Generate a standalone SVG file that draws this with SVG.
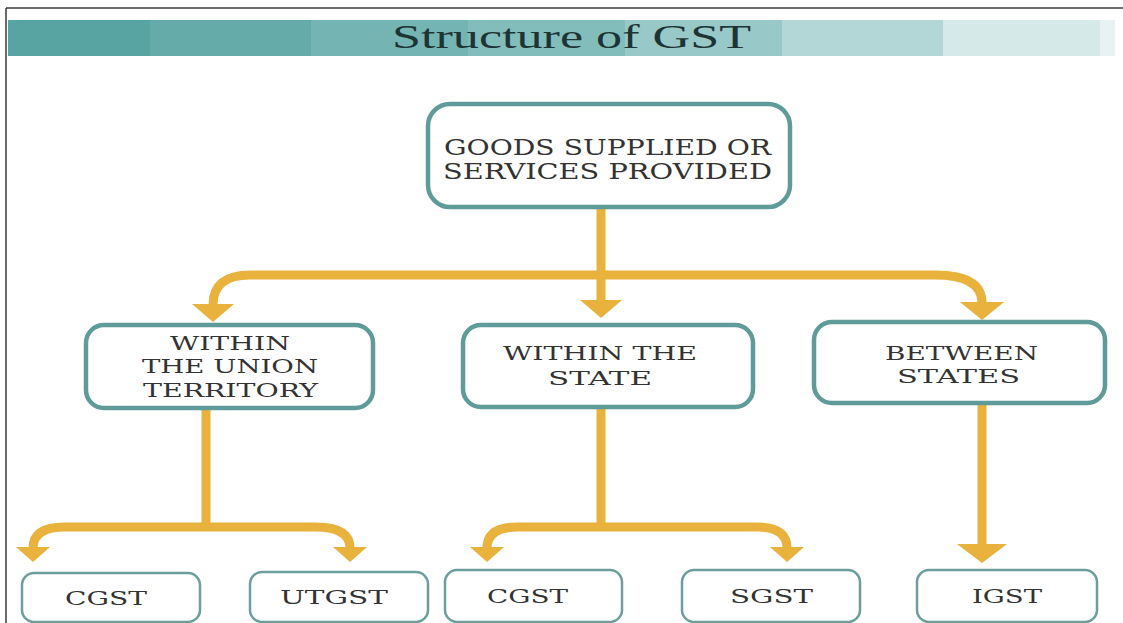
<svg xmlns="http://www.w3.org/2000/svg" width="1123" height="623" viewBox="0 0 1123 623">
<style>
.box{fill:#ffffff;stroke:#5f9c99;stroke-width:4.5}
.sbox{fill:#ffffff;stroke:#6c9e9c;stroke-width:2.5}
.t{font-family:"DejaVu Serif","Liberation Serif",serif;fill:#333333;text-anchor:start}
.c{fill:none;stroke:#e8b23c;stroke-width:9}
.h{fill:#e8b23c}
</style>
<rect x="0" y="0" width="1123" height="623" fill="#ffffff"/>
<g id="frame">
<line x1="6" y1="8" x2="1123" y2="8" stroke="#3a3a3a" stroke-width="1.5"/>
<line x1="6" y1="8" x2="6" y2="623" stroke="#3a3a3a" stroke-width="1.5"/>
</g>
<g id="header">
<rect x="8" y="20" width="142" height="36" fill="#58a4a3"/>
<rect x="150" y="20" width="161" height="36" fill="#64abaa"/>
<rect x="311" y="20" width="157" height="36" fill="#74b4b3"/>
<rect x="468" y="20" width="157" height="36" fill="#82bcbb"/>
<rect x="625" y="20" width="157" height="36" fill="#98c8c7"/>
<rect x="782" y="20" width="161" height="36" fill="#b3d6d6"/>
<rect x="943" y="20" width="157" height="36" fill="#d6e9e9"/>
<rect x="1100" y="20" width="15" height="36" fill="#e8f2f2"/>
<text x="392" y="48" font-family="'Liberation Serif',serif" font-size="33" fill="#1d3434" textLength="359" lengthAdjust="spacingAndGlyphs">Structure of GST</text>
</g>
<g id="connectors">
<path class="c" d="M601 208 V300" stroke-width="12"/>
<path class="c" d="M213 305 Q213 275 250 275 H935 Q982 275 982 303"/>
<polygon class="h" points="192,304 234,304 213,322"/>
<polygon class="h" points="580,300 622,300 601,318"/>
<polygon class="h" points="960,302 1004,302 982,320"/>
<path class="c" d="M206 408 V527" stroke-width="10"/>
<path class="c" d="M33 548 Q33 527 65 527 H315 Q350 527 350 548"/>
<polygon class="h" points="16,547 50,547 33,562"/>
<polygon class="h" points="333,547 367,547 350,562"/>
<path class="c" d="M601 407 V527" stroke-width="10"/>
<path class="c" d="M487 548 Q487 527 518 527 H757 Q787 527 787 548"/>
<polygon class="h" points="470,547 504,547 487,562"/>
<polygon class="h" points="770,547 804,547 787,562"/>
<path class="c" d="M982 403 V546" stroke-width="12"/>
<polygon class="h" points="957,544 1007,544 982,563"/>
</g>
<g id="n-goods">
<rect class="box" x="428" y="104" width="362" height="103" rx="22"/>
<text class="t" x="444" y="155" font-size="22" textLength="327" lengthAdjust="spacingAndGlyphs">GOODS SUPPLIED OR</text>
<text class="t" x="443" y="179" font-size="22" textLength="329" lengthAdjust="spacingAndGlyphs">SERVICES PROVIDED</text>
</g>
<g id="n-union">
<rect class="box" x="86" y="325" width="287" height="83" rx="18"/>
<text class="t" x="170" y="350" font-size="18" textLength="120" lengthAdjust="spacingAndGlyphs">WITHIN</text>
<text class="t" x="142" y="373" font-size="18" textLength="176" lengthAdjust="spacingAndGlyphs">THE UNION</text>
<text class="t" x="143" y="397" font-size="18" textLength="175" lengthAdjust="spacingAndGlyphs">TERRITORY</text>
</g>
<g id="n-state">
<rect class="box" x="463" y="325" width="290" height="82" rx="18"/>
<text class="t" x="503" y="360" font-size="18" textLength="194" lengthAdjust="spacingAndGlyphs">WITHIN THE</text>
<text class="t" x="548" y="385" font-size="18" textLength="104" lengthAdjust="spacingAndGlyphs">STATE</text>
</g>
<g id="n-between">
<rect class="box" x="814" y="322" width="291" height="81" rx="18"/>
<text class="t" x="885" y="360" font-size="18" textLength="153" lengthAdjust="spacingAndGlyphs">BETWEEN</text>
<text class="t" x="897" y="383" font-size="18" textLength="123" lengthAdjust="spacingAndGlyphs">STATES</text>
</g>
<g id="n-cgst1">
<rect class="sbox" x="22" y="573" width="178" height="49" rx="12"/>
<text class="t" x="65" y="605" font-size="18" textLength="82" lengthAdjust="spacingAndGlyphs">CGST</text>
</g>
<g id="n-utgst">
<rect class="sbox" x="250" y="572" width="178" height="50" rx="12"/>
<text class="t" x="280" y="604" font-size="18" textLength="108" lengthAdjust="spacingAndGlyphs">UTGST</text>
</g>
<g id="n-cgst2">
<rect class="sbox" x="445" y="570" width="177" height="52" rx="12"/>
<text class="t" x="487" y="603" font-size="18" textLength="81" lengthAdjust="spacingAndGlyphs">CGST</text>
</g>
<g id="n-sgst">
<rect class="sbox" x="682" y="570" width="178" height="52" rx="12"/>
<text class="t" x="730" y="603" font-size="18" textLength="83" lengthAdjust="spacingAndGlyphs">SGST</text>
</g>
<g id="n-igst">
<rect class="sbox" x="917" y="570" width="180" height="52" rx="12"/>
<text class="t" x="972" y="603" font-size="18" textLength="70" lengthAdjust="spacingAndGlyphs">IGST</text>
</g>
</svg>
